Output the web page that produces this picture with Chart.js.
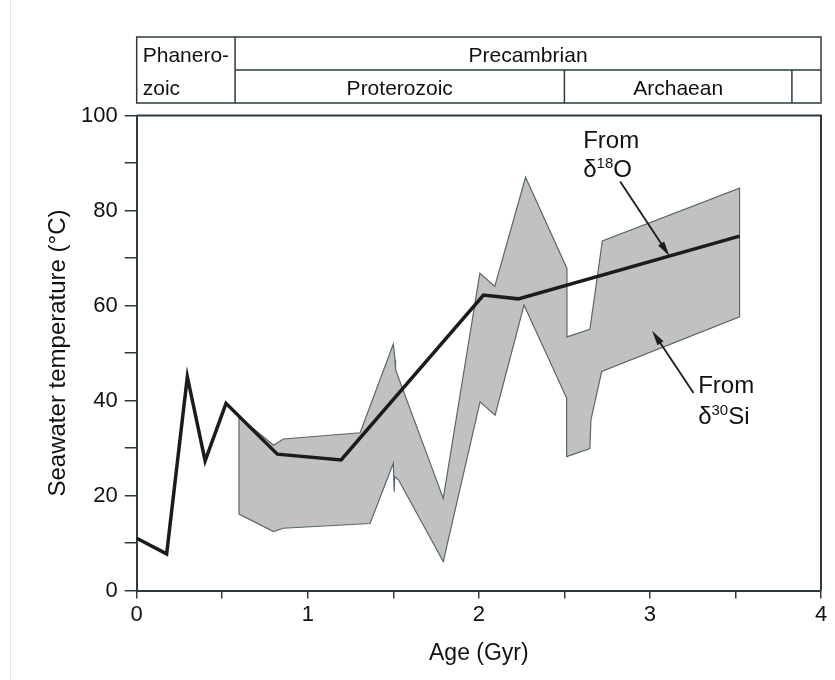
<!DOCTYPE html>
<html>
<head>
<meta charset="utf-8">
<script src="https://cdn.jsdelivr.net/npm/chart.js@4.4.0/dist/chart.umd.min.js"></script>
<style>
  body { margin: 0; background: #fff; }
  #wrap { width: 835px; height: 680px; }
</style>
</head>
<body>
<div id="wrap"><canvas id="c" width="835" height="680"></canvas></div>
<script>
// temperature from d18O (black curve)
const o18Age  = [0, 0.175, 0.296, 0.40, 0.522, 0.822, 1.195, 2.027, 2.23, 3.524];
const o18Temp = [11.0, 7.7, 45.0, 27.3, 39.4, 28.7, 27.5, 62.2, 61.4, 74.6];

// temperature from d30Si (grey band) - upper edge and lower edge, left to right
const siTopAge  = [0.598, 0.80, 0.857, 1.306, 1.500, 1.510, 1.513, 1.792, 2.006, 2.093, 2.273, 2.515, 2.515, 2.649, 2.722, 3.524];
const siTopTemp = [36.6, 30.6, 31.9, 33.2, 51.9, 48.5, 46.5, 19.4, 66.8, 64.0, 87.0, 67.8, 53.4, 55.0, 73.6, 84.7];
const siLowAge  = [0.598, 0.80, 0.857, 1.364, 1.500, 1.505, 1.508, 1.530, 1.792, 2.007, 2.095, 2.264, 2.513, 2.513, 2.649, 2.655, 2.718, 3.524];
const siLowTemp = [16.1, 12.4, 13.1, 14.1, 26.8, 20.8, 24.0, 23.3, 6.1, 39.7, 36.9, 60.1, 40.5, 28.2, 29.9, 35.9, 46.1, 57.6];

// geological timescale header (Gyr)
const eonEdges = [0, 0.575, 2.5, 3.83, 4];

const axisCol = '#2d3b40';
const txtCol = '#111';
const fam = '"Liberation Sans", Arial, Helvetica, sans-serif';

let band = [];
for (let i = 0; i < siTopAge.length; i++) band.push({x: siTopAge[i], y: siTopTemp[i]});
for (let i = siLowAge.length - 1; i >= 0; i--) band.push({x: siLowAge[i], y: siLowTemp[i]});
band.push({x: siTopAge[0], y: siTopTemp[0]});

let o18 = o18Age.map((a, i) => ({x: a, y: o18Temp[i]}));

// text with superscript pieces: [text, size, raise]
function rich(ctx, parts, x, y) {
  for (const p of parts) {
    ctx.font = p[1] + 'px ' + fam;
    ctx.fillText(p[0], x, y - p[2]);
    x += ctx.measureText(p[0]).width;
  }
}

function arrow(ctx, x1, y1, x2, y2) {
  let ang = Math.atan2(y2 - y1, x2 - x1);
  let len = 15, w = 3.6;
  ctx.beginPath();
  ctx.moveTo(x1, y1);
  ctx.lineTo(x2 - Math.cos(ang) * len * 0.8, y2 - Math.sin(ang) * len * 0.8);
  ctx.stroke();
  ctx.beginPath();
  ctx.moveTo(x2, y2);
  ctx.lineTo(x2 - Math.cos(ang) * len + Math.sin(ang) * w, y2 - Math.sin(ang) * len - Math.cos(ang) * w);
  ctx.lineTo(x2 - Math.cos(ang) * len - Math.sin(ang) * w, y2 - Math.sin(ang) * len + Math.cos(ang) * w);
  ctx.closePath();
  ctx.fill();
}

const decor = {
  id: 'decor',
  afterDraw(chart) {
    const ctx = chart.ctx, xs = chart.scales.x, ys = chart.scales.y, a = chart.chartArea;
    const X = v => xs.getPixelForValue(v), Y = v => ys.getPixelForValue(v);
    ctx.save();
    // faint page edge
    ctx.strokeStyle = '#e4e4e4'; ctx.lineWidth = 1;
    ctx.beginPath(); ctx.moveTo(10.5, 0); ctx.lineTo(10.5, 680); ctx.stroke();

    // frame top + right
    ctx.strokeStyle = axisCol; ctx.lineWidth = 2;
    ctx.beginPath();
    ctx.moveTo(a.left, a.top); ctx.lineTo(a.right, a.top); ctx.lineTo(a.right, a.bottom);
    ctx.stroke();

    // header boxes
    let t = 37, m = 70, b = 103;
    ctx.lineWidth = 1.5;
    ctx.strokeRect(X(0), t, X(4) - X(0), b - t);
    ctx.beginPath();
    ctx.moveTo(X(eonEdges[1]), t); ctx.lineTo(X(eonEdges[1]), b);
    ctx.moveTo(X(eonEdges[1]), m); ctx.lineTo(X(4), m);
    ctx.moveTo(X(eonEdges[2]), m); ctx.lineTo(X(eonEdges[2]), b);
    ctx.moveTo(X(eonEdges[3]), m); ctx.lineTo(X(eonEdges[3]), b);
    ctx.stroke();

    ctx.fillStyle = txtCol;
    ctx.font = '21px ' + fam;
    ctx.textBaseline = 'alphabetic';
    ctx.textAlign = 'left';
    ctx.fillText('Phanero-', X(0) + 6, 62);
    ctx.fillText('zoic', X(0) + 6, 95);
    ctx.textAlign = 'center';
    ctx.fillText('Precambrian', (X(eonEdges[1]) + X(4)) / 2, 62);
    ctx.fillText('Proterozoic', (X(eonEdges[1]) + X(eonEdges[2])) / 2, 95);
    ctx.fillText('Archaean', (X(eonEdges[2]) + X(eonEdges[3])) / 2, 95);

    // annotations
    ctx.textAlign = 'left';
    rich(ctx, [['From', 24, 0]], X(2.61), Y(93.2));
    rich(ctx, [['δ', 24, 0], ['18', 15, 9], ['O', 24, 0]], X(2.61), Y(87.1));
    rich(ctx, [['From', 24, 0]], X(3.282), Y(41.6));
    rich(ctx, [['δ', 24, 0], ['30', 15, 9], ['Si', 24, 0]], X(3.282), Y(35.05));

    ctx.strokeStyle = '#1c1c1c'; ctx.fillStyle = '#1c1c1c'; ctx.lineWidth = 1.8;
    arrow(ctx, X(2.826), Y(86.1), X(3.114), Y(70.4));
    arrow(ctx, X(3.255), Y(41.6), X(3.013), Y(54.7));
    ctx.restore();
  }
};

new Chart(document.getElementById('c'), {
  type: 'line',
  data: {
    datasets: [
      { data: o18, borderColor: '#1c1c1c', borderWidth: 3.5, pointRadius: 0, fill: false, borderJoinStyle: 'miter', tension: 0 },
      { data: band, borderColor: '#56676e', borderWidth: 1.2, backgroundColor: '#c2c1c2', fill: 'shape', pointRadius: 0, tension: 0 }
    ]
  },
  options: {
    responsive: false,
    animation: false,
    layout: { padding: { top: 115.5, right: 14, left: 0, bottom: 0 } },
    plugins: { legend: { display: false }, tooltip: { enabled: false } },
    scales: {
      x: {
        type: 'linear', min: 0, max: 4,
        afterFit(s) { s.height = 89.5; },
        ticks: { stepSize: 0.5, autoSkip: false, maxRotation: 0, padding: 3, color: txtCol,
          font: { size: 22, family: fam },
          callback: v => Number.isInteger(v) ? v : '' },
        grid: { drawOnChartArea: false, tickLength: 8, color: axisCol, lineWidth: 1.5 },
        border: { color: axisCol, width: 2 },
        title: { display: true, text: 'Age (Gyr)', color: txtCol, font: { size: 23, family: fam }, padding: { top: 0, bottom: 13 } }
      },
      y: {
        min: 0, max: 100,
        afterFit(s) { s.width = 136.7; },
        ticks: { stepSize: 10, autoSkip: false, padding: 7, color: txtCol,
          font: { size: 22, family: fam },
          callback: v => v % 20 === 0 ? v : '' },
        grid: { drawOnChartArea: false, tickLength: 12, color: axisCol, lineWidth: 1.5 },
        border: { color: axisCol, width: 2 },
        title: { display: true, text: 'Seawater temperature (°C)', color: txtCol, font: { size: 24, family: fam }, padding: { top: 44, bottom: 0 } }
      }
    }
  },
  plugins: [decor]
});
</script>
</body>
</html>
